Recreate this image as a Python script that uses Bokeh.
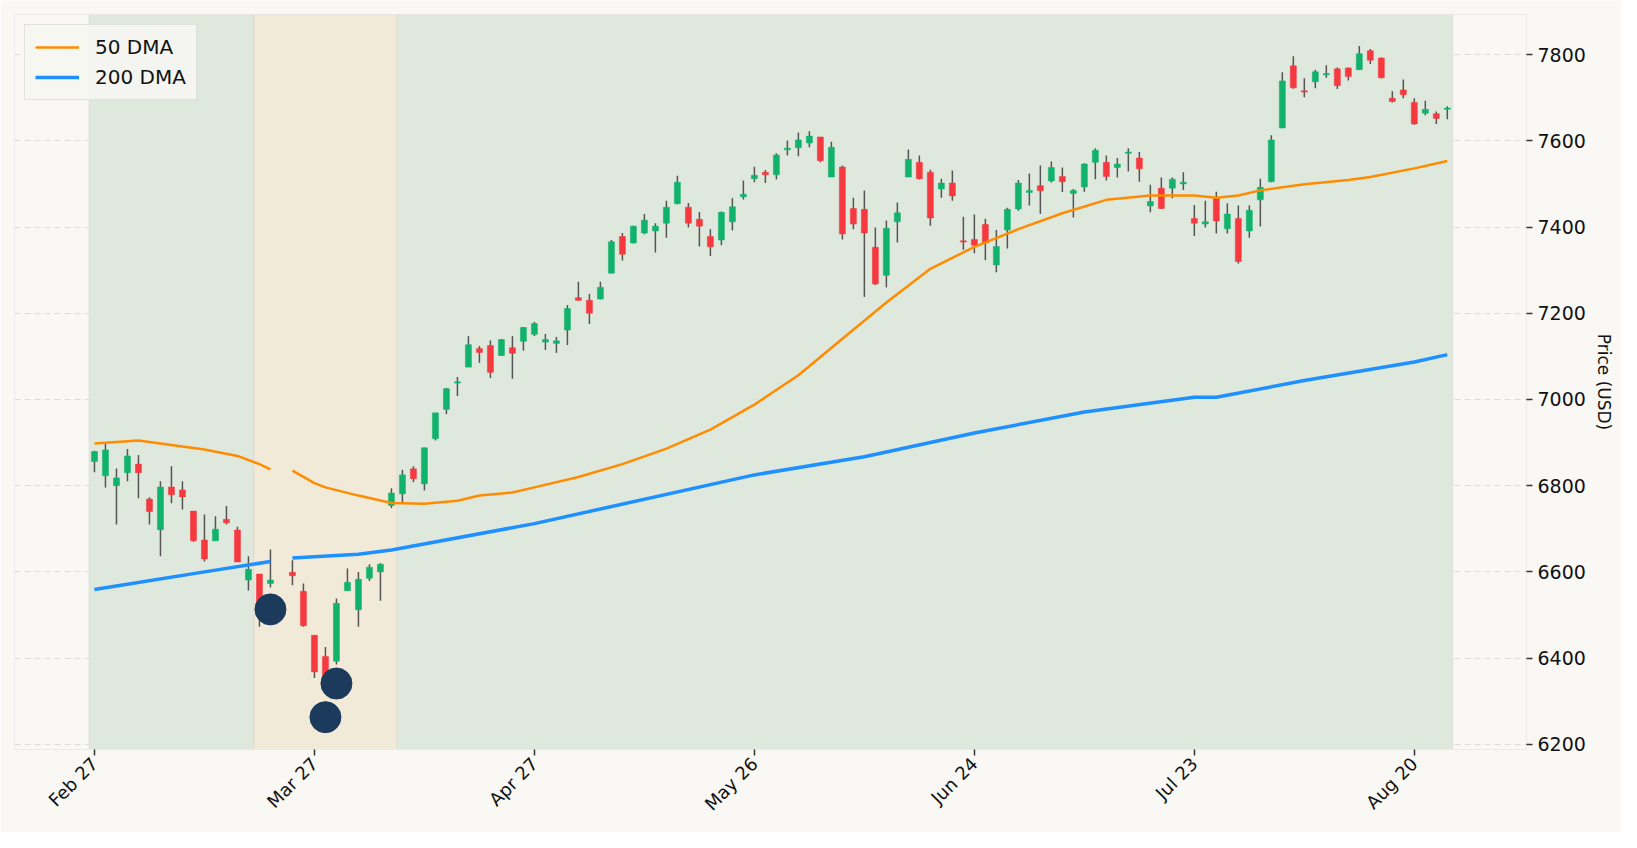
import numpy as np
from bokeh.plotting import figure
from bokeh.models import ColumnDataSource, BoxAnnotation, FixedTicker, Range1d, Legend, LegendItem
from bokeh.embed import file_html
from bokeh.resources import INLINE

# index 17 is a missing session (None)
opens = [6856,6823,6800,6830,6850,6769,6698,6797,6790,6741,6674,6672,6722,6697,6581,6595,6573,None,6599,6555,
         6453,6404,6393,6556,6512,6585,6600,6754,6781,6839,6804,6909,6977,7038,7075,7118,7125,7102,7120,7135,
         7151,7133,7130,7161,7236,7230,7233,7293,7378,7363,7386,7391,7409,7454,7446,7418,7378,7370,7412,7470,
         7512,7527,7521,7579,7584,7595,7609,7516,7539,7443,7441,7353,7288,7412,7516,7550,7527,7488,7502,7368,
         7371,7406,7312,7393,7442,7480,7496,7507,7517,7478,7493,7550,7550,7538,7573,7560,7449,7490,7490,7500,
         7420,7407,7467,7396,7420,7391,7463,7505,7630,7774,7716,7737,7754,7767,7769,7765,7809,7792,7699,7718,
         7689,7664,7663,7673]
closes = [6879,6883,6818,6869,6830,6740,6797,6779,6774,6672,6630,6699,6714,6623,6606,6505,6581,None,6591,6475,
          6368,6345,6527,6576,6583,6611,6618,6783,6825,6816,6888,6969,7025,7041,7127,7109,7063,7139,7107,7167,
          7176,7139,7136,7211,7230,7200,7260,7366,7337,7402,7416,7402,7446,7504,7409,7402,7354,7434,7447,7476,
          7520,7521,7567,7583,7602,7611,7554,7585,7384,7407,7386,7268,7397,7433,7557,7512,7421,7502,7472,7366,
          7358,7363,7355,7441,7502,7485,7484,7538,7505,7485,7546,7578,7517,7546,7574,7535,7459,7443,7511,7504,
          7409,7412,7414,7430,7320,7439,7492,7602,7739,7723,7713,7760,7756,7728,7749,7802,7787,7746,7691,7707,
          7639,7673,7652,7676]
highs = [6881,6901,6840,6885,6871,6773,6810,6845,6810,6741,6733,6729,6753,6705,6636,6595,6652,None,6627,6573,
         6453,6426,6538,6608,6600,6618,6620,6794,6837,6845,6888,6969,7027,7052,7147,7124,7137,7140,7147,7168,
         7180,7152,7145,7219,7273,7245,7273,7370,7386,7403,7430,7409,7461,7519,7456,7435,7395,7436,7467,7508,
         7540,7532,7571,7601,7619,7622,7609,7598,7543,7468,7485,7399,7415,7457,7580,7566,7533,7512,7531,7424,
         7429,7419,7393,7445,7509,7524,7543,7552,7538,7488,7548,7583,7566,7560,7583,7574,7498,7515,7515,7527,
         7451,7461,7482,7455,7450,7450,7512,7613,7759,7796,7745,7765,7775,7770,7770,7820,7813,7793,7715,7742,
         7699,7693,7668,7680]
lows = [6831,6796,6710,6810,6771,6710,6636,6759,6745,6670,6624,6672,6710,6623,6557,6473,6564,None,6569,6473,
        6354,6330,6385,6556,6473,6579,6533,6748,6760,6808,6789,6905,6966,7008,7075,7085,7050,7101,7048,7113,
        7147,7115,7108,7126,7229,7175,7232,7292,7322,7362,7383,7341,7375,7453,7399,7355,7333,7358,7392,7464,
        7504,7502,7510,7566,7564,7585,7550,7516,7371,7395,7238,7265,7260,7364,7516,7510,7403,7468,7461,7347,
        7339,7323,7295,7350,7438,7450,7430,7503,7481,7422,7482,7511,7508,7515,7529,7505,7434,7442,7467,7486,
        7379,7399,7385,7385,7315,7375,7401,7504,7629,7721,7701,7722,7746,7720,7740,7765,7778,7745,7689,7699,
        7637,7659,7639,7650]

tick_idx = [0, 20, 40, 60, 80, 100, 120]
tick_labels = ["Feb 27", "Mar 27", "Apr 27", "May 26", "Jun 24", "Jul 23", "Aug 20"]

dma50_idx = [0, 4, 8, 10, 13, 15, 16, 17, 18, 20, 21, 24, 27, 30, 33, 35, 38, 40, 44, 48, 52, 56, 60, 64, 68,
             72, 76, 80, 84, 88, 92, 96, 100, 102, 104, 106, 110, 114, 116, 120, 123]
dma50_val = [6898, 6905, 6891, 6884, 6869, 6850, 6838, None, 6835, 6806, 6796, 6777, 6760, 6758, 6765, 6777, 6784,
             6796, 6820, 6850, 6886, 6930, 6988, 7056, 7141, 7225, 7303, 7354, 7395, 7432, 7463, 7473, 7473, 7468,
             7473, 7485, 7499, 7509, 7516, 7536, 7553]
dma200_idx = [0, 10, 16, 17, 18, 24, 27, 40, 60, 70, 80, 90, 100, 102, 110, 120, 123]
dma200_val = [6559, 6600, 6624, None, 6632, 6641, 6651, 6712, 6825, 6867, 6922, 6971, 7005, 7005, 7044, 7087, 7104]

signal_idx = [16, 21, 22]
signal_val = [6513, 6263, 6341]

regime_bounds = [-0.5, 14.5, 27.5, 123.5]  # green, beige, green

BG = "#f9f8f4"
GREEN = "#10b26c"
RED = "#f5393f"

p = figure(width=1621, height=832, output_backend="svg", toolbar_location=None,
           x_range=Range1d(-7.27, 130.2), y_range=Range1d(6188, 7893),
           y_axis_location="right", background_fill_color=BG, border_fill_color=BG,
           min_border_left=14, min_border_top=14, min_border_right=95, min_border_bottom=83)
p.outline_line_color = "#ebebeb"

p.add_layout(BoxAnnotation(left=regime_bounds[0], right=regime_bounds[1], fill_color="#dfe8dd", fill_alpha=1, level="underlay"))
p.add_layout(BoxAnnotation(left=regime_bounds[1], right=regime_bounds[2], fill_color="#f2ead8", fill_alpha=1, level="underlay"))
p.add_layout(BoxAnnotation(left=regime_bounds[2], right=regime_bounds[3], fill_color="#dfe8dd", fill_alpha=1, level="underlay"))

idx = list(range(len(opens)))
rows = [(i, o, c, h, l) for i, o, c, h, l in zip(idx, opens, closes, highs, lows) if o is not None]
x = [r[0] for r in rows]
o = np.array([r[1] for r in rows], float)
c = np.array([r[2] for r in rows], float)
h = [r[3] for r in rows]
l = [r[4] for r in rows]
col = [GREEN if cc >= oo else RED for oo, cc in zip(o, c)]
top = np.maximum(o, c)
bot = np.minimum(o, c)
bot = np.where(top - bot < 3, top - 3, bot)
src = ColumnDataSource(dict(x=x, h=h, l=l, top=top, bot=bot, col=col))
p.segment(x0="x", x1="x", y0="l", y1="h", source=src, line_color="#555555", line_width=1.5)
p.vbar(x="x", top="top", bottom="bot", width=0.55, source=src, fill_color="col", line_color="col", line_width=0.5)

to_nan = lambda a: [np.nan if v is None else v for v in a]
l50 = p.line(dma50_idx, to_nan(dma50_val), line_color="#ff8c00", line_width=2.5)
l200 = p.line(dma200_idx, to_nan(dma200_val), line_color="#1e90ff", line_width=3.5)

p.scatter(signal_idx, signal_val, size=31, fill_color="#1b3a5c", line_color="#1b3a5c")

leg = Legend(items=[LegendItem(label="50 DMA", renderers=[l50]), LegendItem(label="200 DMA", renderers=[l200])],
             location="top_left", label_text_font="DejaVu Sans", label_text_font_size="20px",
             label_text_color="#111111",
             background_fill_color="#f6f6f2", background_fill_alpha=0.9, border_line_color="#cccccc",
             border_line_width=1.5, glyph_width=44, margin=10, padding=10, spacing=6, label_standoff=16)
p.add_layout(leg)

p.xgrid.ticker = FixedTicker(ticks=tick_idx)
p.xaxis.ticker = FixedTicker(ticks=tick_idx)
p.xaxis.major_label_overrides = {i: t for i, t in zip(tick_idx, tick_labels)}
p.xaxis.major_label_orientation = 0.785
p.yaxis.ticker = FixedTicker(ticks=list(range(6200, 7801, 200)))
p.yaxis.axis_label = "Price (USD)"
for ax in (p.xaxis, p.yaxis):
    ax.axis_line_color = "#ebebeb"
    ax.major_tick_line_color = "#333333"
    ax.major_tick_line_width = 1.5
    ax.major_tick_out = 6
    ax.major_tick_in = 0
    ax.minor_tick_line_color = None
    ax.major_label_text_font = "DejaVu Sans"
    ax.major_label_text_font_size = "18px"
    ax.major_label_text_color = "#111111"
    ax.axis_label_text_font = "DejaVu Sans"
    ax.axis_label_text_font_size = "17px"
    ax.axis_label_text_color = "#111111"
    ax.axis_label_text_font_style = "normal"
p.yaxis.major_label_text_font_size = "19px"
for g in (p.xgrid, p.ygrid):
    g.grid_line_color = "#dcdcdc"
    g.grid_line_dash = "6 4"
    g.grid_line_width = 1.2

open("out.html", "w").write(file_html(p, INLINE))
